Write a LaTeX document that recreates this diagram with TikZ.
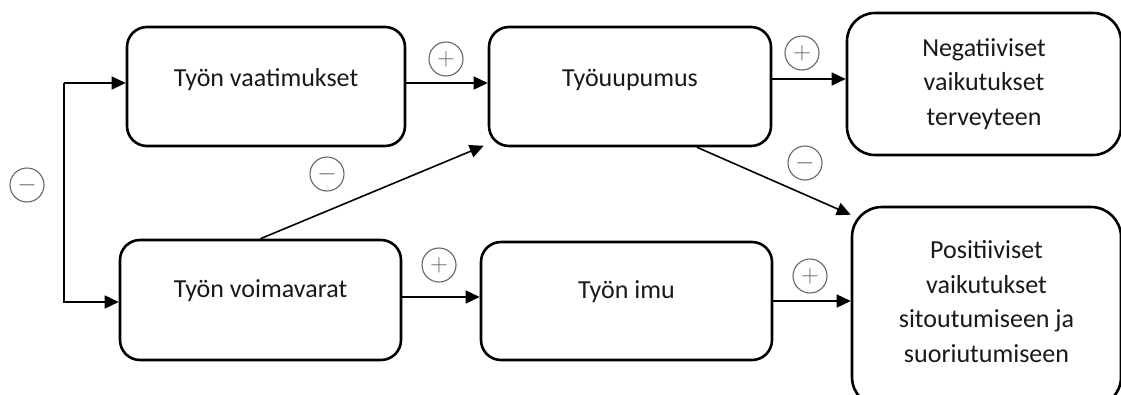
\documentclass[tikz,border=0pt]{standalone}
\usepackage{fontspec}
\setmainfont{Carlito}
\usetikzlibrary{arrows.meta}

\begin{document}
\begin{tikzpicture}[x=1pt,y=-1pt,
    stage/.style={draw=black,line width=2.6pt,rounded corners=20pt,align=center,
      font=\fontsize{26}{34.5}\selectfont,text=black!90,inner sep=0pt},
    flow/.style={line width=1.6pt,-{Triangle[length=14pt,width=13pt]}},
    sign/.style={circle,draw=black!60,line width=1.1pt,text=black!60,
      minimum size=34pt,inner sep=0pt,font=\fontsize{29}{29}\selectfont}]
      \clip (0,0) rectangle (1121,394);
      \fill[white] (0,0) rectangle (1121,394);
      % Drawing boxes
      % Row 1: demands, burnout, health
      \node[stage,minimum width=278,minimum height=119,text height=18pt,text depth=19pt]
        (vaat) at (266,86.5) {Työn vaatimukset};
      \node[stage,minimum width=282,minimum height=119,text height=18pt,text depth=19pt]
        (uup) at (630,86.5) {Työuupumus};
      \node[stage,minimum width=274,minimum height=142,rounded corners=28pt]
        (neg) at (984,84) {Negatiiviset\\vaikutukset\\terveyteen};
      % Row 2: resources, engagement, commitment
      \node[stage,minimum width=281,minimum height=120,text height=18pt,text depth=24pt]
        (voim) at (260.5,300) {Työn voimavarat};
      \node[stage,minimum width=291,minimum height=118,text height=18pt,text depth=24pt]
        (imu) at (626.5,301) {Työn imu};
      \node[stage,minimum width=269,minimum height=200,rounded corners=30pt]
        (pos) at (986.5,307) {Positiiviset\\vaikutukset\\sitoutumiseen ja\\suoriutumiseen\\[-24pt]\mbox{}};
      % Done with boxes; drawing connectors
      \coordinate (forktop) at (64,83);
      \coordinate (forkbot) at (64,302);
      \draw[flow] (forktop) -- (forktop -| vaat.west);
      \draw[flow] (forktop) -- (forkbot) -- (forkbot -| voim.west);
      \draw[flow] ([yshift=3.5pt]vaat.east) -- ([yshift=3.5pt]vaat.east -| uup.west);
      \draw[flow] ([yshift=7.5pt]uup.east) -- ([yshift=7.5pt]uup.east -| neg.west);
      \draw[flow] ([yshift=3pt]voim.east) -- ([yshift=3pt]voim.east -| imu.west);
      \draw[flow] (imu.east) -- (imu.east -| pos.west);
      \draw[flow] (voim.north) -- ([xshift=-4pt,yshift=1.5pt]uup.south west);
      \draw[flow] ([xshift=67pt]uup.south) -- ([yshift=-9pt]pos.north west);
      % Done with connectors; drawing signs
      \node[sign] (s1) at (27,185) {$-$};
      \node[sign] (s2) at (446,59) {$+$};
      \node[sign] (s3) at (327,174) {$-$};
      \node[sign] (s4) at (802,53) {$+$};
      \node[sign] (s5) at (805,163) {$-$};
      \node[sign] (s6) at (439,265) {$+$};
      \node[sign] (s7) at (810,276) {$+$};
      % Done with signs
    \end{tikzpicture}
\end{document}
